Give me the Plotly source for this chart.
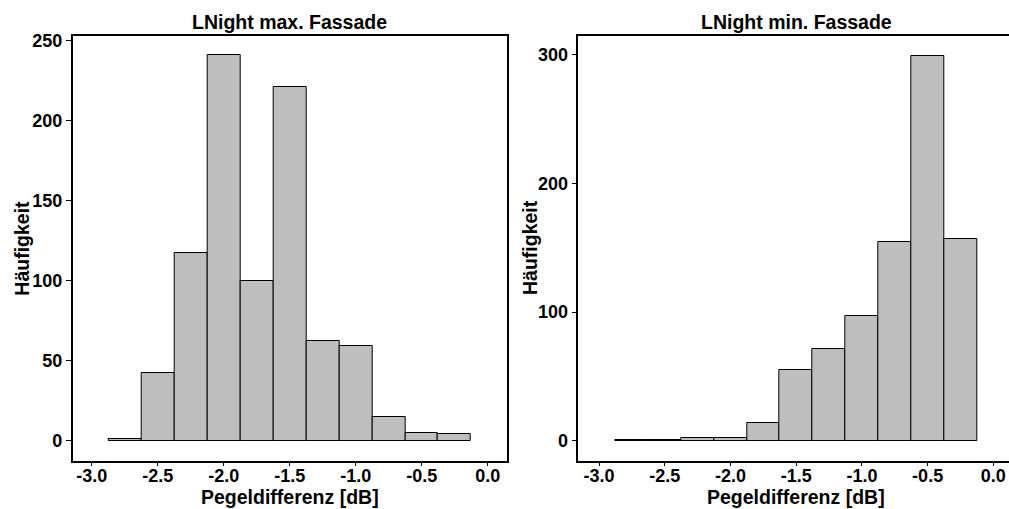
import plotly.graph_objects as go

# ---- data ----
bin_edges = [-2.875, -2.625, -2.375, -2.125, -1.875, -1.625, -1.375, -1.125, -0.875, -0.625, -0.375, -0.125]
counts_max = [1, 42, 117, 241, 100, 221, 62, 59, 15, 5, 4]
counts_min = [1, 1, 2, 2, 14, 55, 71, 97, 154, 299, 157]
title_max = "LNight max. Fassade"
title_min = "LNight min. Fassade"
x_label = "Pegeldifferenz [dB]"
y_label = "Häufigkeit"
x_ticks = [-3.0, -2.5, -2.0, -1.5, -1.0, -0.5, 0.0]
x_ticktext = ["-3.0", "-2.5", "-2.0", "-1.5", "-1.0", "-0.5", "0.0"]
y_ticks_max = [0, 50, 100, 150, 200, 250]
y_ticks_min = [0, 100, 200, 300]

centers = [(a + b) / 2 for a, b in zip(bin_edges[:-1], bin_edges[1:])]
widths = [b - a for a, b in zip(bin_edges[:-1], bin_edges[1:])]

W, H = 1009, 509
FONT = "Liberation Sans, Arial, sans-serif"
fill = "#BEBEBE"

fig = go.Figure()
fig.add_trace(go.Bar(x=centers, y=counts_max, width=widths, marker=dict(color=fill, line=dict(color="black", width=1)),
                     xaxis="x", yaxis="y", showlegend=False))
fig.add_trace(go.Bar(x=centers, y=counts_min, width=widths, marker=dict(color=fill, line=dict(color="black", width=1)),
                     xaxis="x2", yaxis="y2", showlegend=False))

L1, R1 = 72.7 / W, 506.7 / W
L2, R2 = 578.3 / W, 1.0
YB, YT = (H - 460.7) / H, (H - 36) / H

tickfont = dict(family=FONT, size=18, color="black", weight="bold")
common_x = dict(tickmode="array", tickvals=x_ticks, ticktext=x_ticktext, ticks="outside", ticklen=4, tickwidth=1,
                tickcolor="black", showgrid=False, zeroline=False, showline=True, linecolor="black", linewidth=1.5,
                tickfont=tickfont, automargin=False, ticklabelstandoff=-6)
common_y = dict(ticks="outside", ticklen=5, tickwidth=1, tickcolor="black", showgrid=False, zeroline=False,
                showline=True, linecolor="black", linewidth=1.5, tickfont=tickfont, automargin=False, tickmode="array")

fig.update_layout(
    width=W, height=H,
    margin=dict(l=0, r=0, t=0, b=0),
    paper_bgcolor="white", plot_bgcolor="white",
    bargap=0,
    font=dict(family=FONT, color="black"),
    xaxis=dict(domain=[L1, R1], range=[-3.144, 0.144], anchor="y", mirror=True, **common_x),
    yaxis=dict(domain=[YB, YT], range=[-12.5, 252.9], anchor="x", mirror=True, tickvals=y_ticks_max, **common_y),
    xaxis2=dict(domain=[L2, R2], range=[-3.158, 0.119], anchor="y2", mirror=True, **common_x),
    yaxis2=dict(domain=[YB, YT], range=[-15.3, 314.2], anchor="x2", mirror=False, tickvals=y_ticks_min, **common_y),
)

tfont = dict(family=FONT, size=19.5, color="black", weight="bold")
ann = []
for title, xc in [(title_max, (72.7 + 506.7) / 2), (title_min, (578.3 + 1014) / 2)]:
    ann.append(dict(text=title, x=xc / W, y=(H - 21.7) / H, xref="paper", yref="paper",
                    xanchor="center", yanchor="middle", showarrow=False, font=tfont))
    ann.append(dict(text=x_label, x=xc / W, y=(H - 497) / H, xref="paper", yref="paper",
                    xanchor="center", yanchor="middle", showarrow=False, font=tfont))
for xc in [21.7, 530]:
    ann.append(dict(text=y_label, x=xc / W, y=(H - 248) / H, xref="paper", yref="paper",
                    xanchor="center", yanchor="middle", showarrow=False, textangle=-90, font=tfont))
fig.update_layout(annotations=ann)

fig.write_html("out.html", config={"displayModeBar": False},
               post_script="document.body.style.margin='0';document.body.style.padding='0';")
